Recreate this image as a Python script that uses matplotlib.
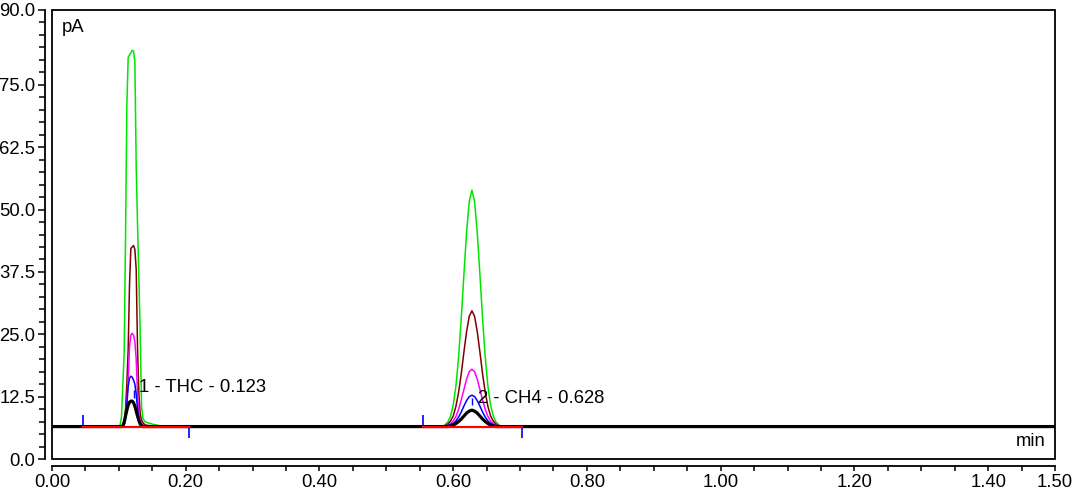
import matplotlib
matplotlib.use("Agg")
import matplotlib.pyplot as plt
from matplotlib.patches import Rectangle

# baseline level of the detector (pA)
baseline = 6.5

# peak 1 (THC) - time grid and signal of each trace
p1_t = [0.100, 0.102, 0.104, 0.106, 0.108, 0.110, 0.112, 0.114, 0.116, 0.118,
        0.120, 0.122, 0.124, 0.126, 0.128, 0.130, 0.132, 0.134, 0.136, 0.138,
        0.140, 0.145, 0.150, 0.160, 0.170]
p1_green = [6.5, 6.9, 8.5, 15.0, 21.2, 44.1, 70.7, 80.5, 81.0, 81.4,
            81.9, 81.8, 79.6, 58.5, 46.9, 36.3, 25.0, 10.4, 8.2, 7.7,
            7.4, 7.2, 7.0, 6.7, 6.5]
p1_brown = [6.5, 6.5, 6.5, 6.7, 7.0, 10.0, 15.0, 22.0, 35.0, 42.2,
            42.5, 42.8, 42.0, 38.0, 22.0, 13.0, 9.0, 7.8, 7.3, 7.0,
            6.8, 6.7, 6.6, 6.5, 6.5]
p1_magenta = [6.5, 6.5, 6.5, 6.6, 6.9, 8.5, 11.5, 16.0, 22.5, 24.8,
              25.2, 24.8, 23.5, 20.0, 13.0, 9.0, 7.6, 7.1, 6.9, 6.7,
              6.6, 6.5, 6.5, 6.5, 6.5]
p1_blue = [6.5, 6.5, 6.5, 6.6, 6.8, 8.0, 11.0, 14.5, 16.2, 16.6,
           16.4, 15.8, 15.0, 13.0, 10.0, 8.0, 7.2, 6.9, 6.7, 6.6,
           6.5, 6.5, 6.5, 6.5, 6.5]
p1_black = [6.5, 6.5, 6.5, 6.6, 7.4, 8.6, 9.8, 10.8, 11.4, 11.6,
            11.6, 11.3, 10.6, 9.6, 8.6, 7.7, 7.0, 6.7, 6.5, 6.5,
            6.5, 6.5, 6.5, 6.5, 6.5]

# peak 2 (CH4)
p2_t = [0.585, 0.592, 0.596, 0.600, 0.604, 0.608, 0.612, 0.616, 0.620, 0.624,
        0.628, 0.632, 0.636, 0.640, 0.644, 0.648, 0.652, 0.656, 0.660, 0.664,
        0.671]
p2_green = [6.5, 7.4, 8.6, 10.8, 14.5, 20.3, 28.0, 36.9, 45.4, 51.6,
            53.9, 51.6, 45.4, 36.9, 28.0, 20.3, 14.5, 10.8, 8.6, 7.4, 6.5]
p2_brown = [6.5, 7.0, 7.6, 8.6, 10.5, 13.3, 17.0, 21.4, 25.5, 28.6,
            29.7, 28.6, 25.5, 21.4, 17.0, 13.3, 10.5, 8.6, 7.6, 7.0, 6.5]
p2_magenta = [6.5, 6.8, 7.1, 7.6, 8.5, 9.9, 11.8, 13.9, 16.0, 17.5,
              18.0, 17.5, 16.0, 13.9, 11.8, 9.9, 8.5, 7.6, 7.1, 6.8, 6.5]
p2_blue = [6.5, 6.7, 6.9, 7.1, 7.6, 8.4, 9.4, 10.6, 11.7, 12.5,
           12.8, 12.5, 11.7, 10.6, 9.4, 8.4, 7.6, 7.1, 6.9, 6.7, 6.5]
p2_black = [6.5, 6.5, 6.6, 6.8, 7.1, 7.5, 8.0, 8.6, 9.2, 9.6,
            9.8, 9.6, 9.2, 8.6, 8.0, 7.5, 7.1, 6.8, 6.6, 6.5, 6.5]

# integration events
peak_start = [0.047, 0.555]
peak_end = [0.205, 0.703]
peak_rt = [0.123, 0.628]
apex_mark_lo = [12.2, 10.8]
apex_mark_hi = [13.8, 12.2]
peak_labels = ['1 - THC - 0.123', '2 - CH4 - 0.628']
label_x = [0.130, 0.637]
label_y = [14.4, 12.2]

x_ticks = [0.0, 0.2, 0.4, 0.6, 0.8, 1.0, 1.2, 1.4, 1.5]
y_ticks = [0.0, 12.5, 25.0, 37.5, 50.0, 62.5, 75.0, 90.0]

traces = [
    ('#00e600', p1_green, p2_green, 1.1),
    ('#800000', p1_brown, p2_brown, 1.1),
    ('#ff00ff', p1_magenta, p2_magenta, 1.1),
    ('#0000ff', p1_blue, p2_blue, 1.1),
    ('black', p1_black, p2_black, 2.3),
]

plt.rcParams['font.family'] = ['Liberation Sans', 'DejaVu Sans']
plt.rcParams['font.size'] = 13.3

fig = plt.figure(figsize=(10.8, 5.0), dpi=100)
ax = fig.add_axes([0.0481, 0.082, 0.9288, 0.898])

for cor, v1, v2, lw in traces:
    t = [0.0] + p1_t + p2_t + [1.5]
    v = [baseline] + v1 + v2 + [baseline]
    ax.plot(t, v, color=cor, lw=lw, zorder=2)

# baselines drawn by the integrator
for a, b in zip(peak_start, peak_end):
    ax.plot([a, b], [baseline, baseline], color='#ff0000', lw=1.6, zorder=3)

# start / end / apex markers
ax.vlines(peak_start, baseline + 0.3, baseline + 2.3, color='#0000ff', lw=1.2, zorder=4)
ax.vlines(peak_end, baseline - 2.3, baseline - 0.3, color='#0000ff', lw=1.2, zorder=4)
ax.vlines(peak_rt, apex_mark_lo, apex_mark_hi, color='#0000ff', lw=1.0, zorder=4)

for txt, x, y in zip(peak_labels, label_x, label_y):
    ax.text(x, y, txt, ha='left', va='center', color='black', zorder=5)

ax.text(0.01, 0.962, 'pA', transform=ax.transAxes, ha='left', va='center')
ax.text(0.991, 0.04, 'min', transform=ax.transAxes, ha='right', va='center')

ax.set_xlim(0, 1.5)
ax.set_ylim(0, 90)

# frame box plus offset axis lines
ax.add_patch(Rectangle((0, 0), 1, 1, transform=ax.transAxes, fill=False,
                       lw=1.3, edgecolor='black', clip_on=False, zorder=6))
ax.spines['left'].set_position(('outward', 5))
ax.spines['bottom'].set_position(('outward', 5))
ax.spines['top'].set_visible(False)
ax.spines['right'].set_visible(False)
for s in ['left', 'bottom']:
    ax.spines[s].set_linewidth(1.3)

ax.set_xticks(x_ticks)
ax.set_xticklabels([f'{v:.2f}' for v in x_ticks])
ax.set_xticks([i * 0.05 for i in range(31)], minor=True)
ax.set_yticks(y_ticks)
ax.set_yticklabels([f'{v:.1f}' for v in y_ticks])
ax.set_yticks([i * 2.5 for i in range(37)], minor=True)

ax.tick_params(axis='x', which='both', direction='out', length=3.5, width=1.1, pad=2)
ax.tick_params(axis='y', which='major', direction='out', length=5, width=1.1, pad=2)
ax.tick_params(axis='y', which='minor', direction='out', length=4, width=1.1)

fig.savefig('out.png', dpi=100)
